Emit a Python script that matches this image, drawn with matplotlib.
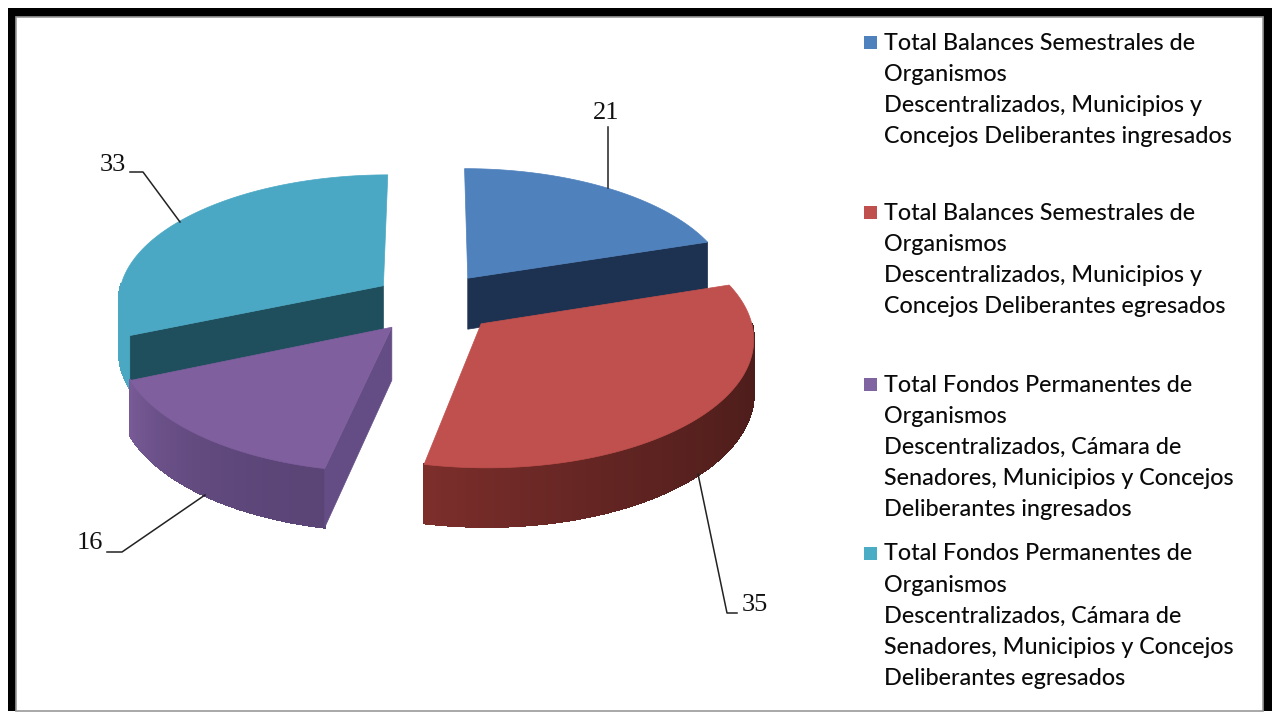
import numpy as np
import matplotlib
matplotlib.use("Agg")
import matplotlib.pyplot as plt
from matplotlib.collections import PolyCollection
from matplotlib.colors import to_rgb
from matplotlib.patches import Polygon, Rectangle

# valores de cada porcion
values = [21, 35, 16, 33]
legend_labels = [
    "Total Balances Semestrales de\nOrganismos\nDescentralizados, Municipios y\nConcejos Deliberantes ingresados",
    "Total Balances Semestrales de\nOrganismos\nDescentralizados, Municipios y\nConcejos Deliberantes egresados",
    "Total Fondos Permanentes de\nOrganismos\nDescentralizados, Cámara de\nSenadores, Municipios y Concejos\nDeliberantes ingresados",
    "Total Fondos Permanentes de\nOrganismos\nDescentralizados, Cámara de\nSenadores, Municipios y Concejos\nDeliberantes egresados",
]
top_colors = ["#4f81bd", "#c0504d", "#7f5f9e", "#4aa8c4"]
legend_colors = ["#4f81bd", "#c0504d", "#8064a2", "#4bacc6"]

# sombreado de la pared exterior (angulo inicial -> final) y cara radial
wall_start = ["#1c3250", "#4a1c1a", "#5b4577", "#4aa8c2"]
wall_end = ["#1c3250", "#7c2e2b", "#775a96", "#4aa8c2"]
face_colors = ["#1c3250", None, "#644d85", "#1f4e5c"]
# que borde tiene cara visible: 0 inicio, 1 final
face_edge = [1, None, 0, 0]

# geometria del pastel en pixeles
CX, CY = 432, 302
RX, RY = 266, 125
PERSP = 0.10
DEPTH = 52
explode_x = [62, 65, 62, 59]
explode_y = [30, 32, 32, 30]

# etiquetas y lineas guia
value_pos = [(606, 113), (755, 605), (90, 543), (113, 165)]
leaders = [
    [(608, 127), (608, 188)],
    [(698, 474), (727, 613), (737, 613)],
    [(107, 552), (122, 552), (205, 495)],
    [(130, 172), (143, 172), (180, 222)],
]
legend_y = [43, 213, 385, 554]
LINE_H = 31.2


def project(x, y, drop=0.0):
    # x, y en el plano del pastel; y positivo hacia atras
    s = 1 / (1 + PERSP * y / RY)
    return CX + x * s, CY - y * s + drop * s


fig = plt.figure(figsize=(12.78, 7.13), dpi=100)
ax = fig.add_axes([0, 0, 1, 1])
ax.set_xlim(0, 1278)
ax.set_ylim(713, 0)
ax.axis("off")

# marco negro
ax.add_patch(Rectangle((8, 8), 1264, 703, fc="black", ec="none", zorder=0))
ax.add_patch(Rectangle((16, 17), 1247, 694, fc="white", ec="#999999", lw=1.2, zorder=1))

# limites angulares
fracs = np.array(values) / sum(values)
bounds = np.concatenate([[0], np.cumsum(fracs)]) * 2 * np.pi

for i in [3, 0, 2, 1]:
    a0, a1 = bounds[i], bounds[i + 1]
    mid = (a0 + a1) / 2
    ox = explode_x[i] * np.sin(mid)
    oy = explode_y[i] * np.cos(mid)
    th = np.linspace(a0, a1, 120)
    px = ox + RX * np.sin(th)
    py = oy + RY * np.cos(th)
    xt, yt = project(px, py)
    xb, yb = project(px, py, DEPTH)
    ax_, ay_ = project(ox, oy)
    bx_, by_ = project(ox, oy, DEPTH)

    # pared exterior por tramos para el degradado, solo la parte de delante
    c0, c1 = np.array(to_rgb(wall_start[i])), np.array(to_rgb(wall_end[i]))
    quads, cols = [], []
    for k in range(len(th) - 1):
        if np.cos(th[k]) > 0.0:
            continue
        t = k / (len(th) - 2)
        quads.append([(xt[k], yt[k]), (xt[k + 1], yt[k + 1]), (xb[k + 1], yb[k + 1]), (xb[k], yb[k])])
        cols.append(c0 + (c1 - c0) * t ** 2)
    ax.add_collection(PolyCollection(quads, facecolors=cols, edgecolors=cols, linewidths=1.0,
                                     antialiaseds=False, zorder=2))

    # cara radial visible
    if face_colors[i] is not None:
        j = -1 if face_edge[i] == 1 else 0
        face = [(ax_, ay_), (xt[j], yt[j]), (xb[j], yb[j]), (bx_, by_)]
        ax.add_patch(Polygon(face, fc=face_colors[i], ec=face_colors[i], lw=0.5, zorder=2))

    # cara superior
    top = np.column_stack([np.r_[ax_, xt], np.r_[ay_, yt]])
    ax.add_patch(Polygon(top, fc=top_colors[i], ec=top_colors[i], lw=0.5, zorder=2))

# lineas guia y valores
for pts, pos, v in zip(leaders, value_pos, values):
    xs, ys = zip(*pts)
    ax.plot(xs, ys, color="#222222", lw=1.1, zorder=4)
    ax.text(pos[0], pos[1], str(v), ha="center", va="center", fontsize=19,
            family="Liberation Serif", color="#111111", zorder=5)

# leyenda
for y0, label, col in zip(legend_y, legend_labels, legend_colors):
    ax.add_patch(Rectangle((864, y0 - 7), 13, 13, fc=col, ec="none", zorder=4))
    for n, line in enumerate(label.split("\n")):
        ax.text(884, y0 + n * LINE_H, line, ha="left", va="center", fontsize=16.85,
                family="Lato", weight="medium", color="#0a0a0a", zorder=5)

fig.savefig("out.png", dpi=100)
